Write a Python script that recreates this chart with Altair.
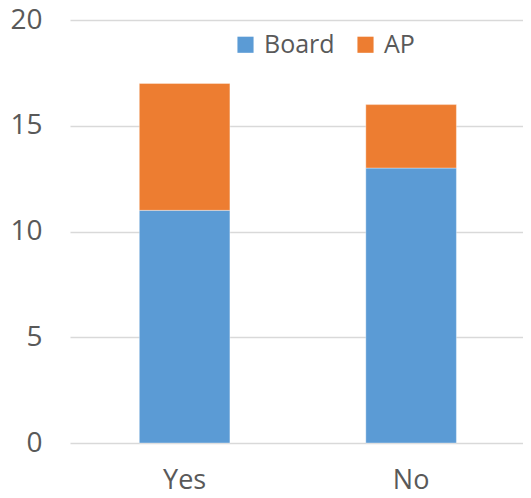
import altair as alt
import pandas as pd

categories = ["Yes", "No"]
board = [11, 13]
ap = [6, 3]
series = ["Board", "AP"]
colors = ["#5B9BD5", "#ED7D31"]
y_ticks = [0, 5, 10, 15, 20]

rows = []
for i, c in enumerate(categories):
    rows.append({"cat": c, "series": "Board", "value": board[i], "ord": 0})
    rows.append({"cat": c, "series": "AP", "value": ap[i], "ord": 1})
df = pd.DataFrame(rows)

font = "Open Sans"

chart = alt.Chart(df).mark_bar(stroke="white", strokeWidth=0.6, strokeOpacity=0.6).encode(
    x=alt.X("cat:N", sort=categories, title=None,
            scale=alt.Scale(paddingInner=0.6, paddingOuter=0.3, align=0.51),
            axis=alt.Axis(labelAngle=0, labelFontSize=27, labelColor="#595959", labelFont=font,
                          domain=False, ticks=False, labelPadding=24, grid=False)),
    y=alt.Y("value:Q", title=None, stack="zero",
            scale=alt.Scale(domain=[0, 20], nice=False),
            axis=alt.Axis(values=y_ticks, labelFontSize=28, labelColor="#595959", labelFont=font,
                          domain=False, ticks=False, labelPadding=28, gridColor="#D9D9D9",
                          gridWidth=1.3)),
    color=alt.Color("series:N", sort=series,
                    scale=alt.Scale(domain=series, range=colors),
                    legend=alt.Legend(title=None, orient="none", direction="horizontal",
                                      legendX=163, legendY=12, symbolType="square", symbolSize=260,
                                      symbolStrokeWidth=0, labelFontSize=25, labelFont=font,
                                      labelColor="#595959", columnPadding=18, labelOffset=6)),
    order=alt.Order("ord:Q", sort="ascending"),
).properties(
    width=453, height=423,
    autosize=alt.AutoSizeParams(type="none"),
    padding={"left": 62, "top": 12, "right": 0, "bottom": 47},
).configure_view(stroke=None)

chart.save("out.html", embed_options={"renderer": "svg", "actions": False})
